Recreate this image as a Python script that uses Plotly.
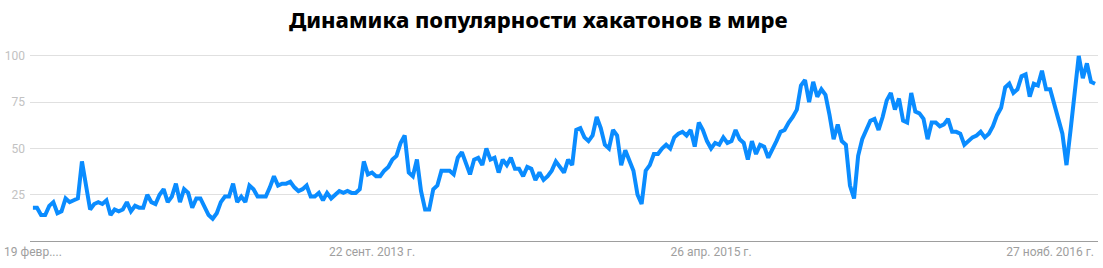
import pandas as pd
import plotly.graph_objects as go

# Weekly Google Trends interest, starting 19 Feb 2012
start_date = "2012-02-19"
interest = [
    18, 18, 14, 14, 19, 21, 15, 16, 23, 21, 22, 23, 43, 31, 17, 20, 21, 20, 22, 14,
    17, 16, 17, 21, 16, 19, 18, 18, 25, 21, 20, 25, 28, 21, 24, 31, 21, 28, 26,
    18, 23, 23, 18, 14, 12, 15, 21, 24, 24, 31, 21, 24, 21, 30, 28, 24, 24, 24, 29,
    35, 30, 31, 31, 32, 29, 27, 28, 30, 24, 24, 26, 22, 26, 23, 25, 27, 26, 27, 26,
    26, 28, 43, 36,
    37, 35, 35, 38, 40, 44, 46, 53, 57, 37, 35, 44, 27, 17, 17, 28, 30, 38, 38, 38,
    36, 45, 48, 42, 36, 44, 45, 41, 50, 44, 45, 37, 44, 41, 45, 39, 39, 35, 40, 39,
    33, 37, 33, 35,
    38, 43, 40, 37, 44, 41, 60, 61, 56, 54, 57, 67, 61, 52, 50, 60, 57, 41, 49, 43,
    38, 25, 20, 38, 41, 47, 47, 50, 52, 50, 56, 58, 59, 57, 60, 51, 64, 60, 54, 50,
    53, 52, 56, 53,
    54, 60, 55, 53, 44, 54, 47, 52, 51, 45, 49, 54, 59, 60, 64, 67, 71, 84, 87, 75,
    86, 78, 82, 79, 68, 55, 63, 54, 52, 30, 23, 46, 55, 60, 65, 66, 60, 67, 76, 80,
    71,
    77, 65, 64, 80, 70, 69, 66, 55, 64, 64, 62, 63, 66, 59, 59, 58, 52, 54, 56, 57,
    59, 56, 58, 62, 68, 72, 83, 85, 80, 82, 89, 90, 78, 85, 84, 92, 82, 82, 73, 66,
    58, 41, 60, 81, 100, 88, 96, 86, 85,
]
dates = pd.date_range(start_date, periods=len(interest), freq="7D")

x_tick_dates = ["2012-02-19", "2013-09-22", "2015-04-26", "2016-11-27"]
x_tick_text = ["19 февр....", "22 сент. 2013 г.", "26 апр. 2015 г.", "27 нояб. 2016 г."]
y_tick_vals = [25, 50, 75, 100]
title_text = "Динамика популярности хакатонов в мире"

fig = go.Figure()
fig.add_trace(go.Scatter(
    x=dates, y=interest, mode="lines",
    line=dict(color="#0a8cff", width=4),
    hoverinfo="x+y",
))

pad = pd.Timedelta(days=5)
fig.update_layout(
    width=1103, height=268,
    margin=dict(l=30, r=5, t=48, b=27),
    paper_bgcolor="white", plot_bgcolor="white",
    showlegend=False,
    title=dict(
        text=title_text, x=0.488, xanchor="center", y=0.925, yanchor="middle",
        font=dict(family="Noto Sans", size=22, color="#000000", weight=800),
    ),
    xaxis=dict(
        range=[dates[0] - pad, dates[-1] + pad],
        tickvals=pd.to_datetime(x_tick_dates), ticktext=x_tick_text,
        showgrid=False, zeroline=False,
        showline=True, linecolor="#9e9e9e", linewidth=1,
        ticks="", tickfont=dict(family="Roboto", size=12, color="#9e9e9e"),
    ),
    yaxis=dict(
        range=[0, 104.3],
        tickvals=y_tick_vals,
        showgrid=True, gridcolor="#e0e0e0", gridwidth=1,
        zeroline=False, showline=False, ticks="",
        ticklabelstandoff=4,
        tickfont=dict(family="Roboto", size=12, color="#c2c2c2"),
    ),
)

fig.write_html("out.html", config={"displayModeBar": False})
